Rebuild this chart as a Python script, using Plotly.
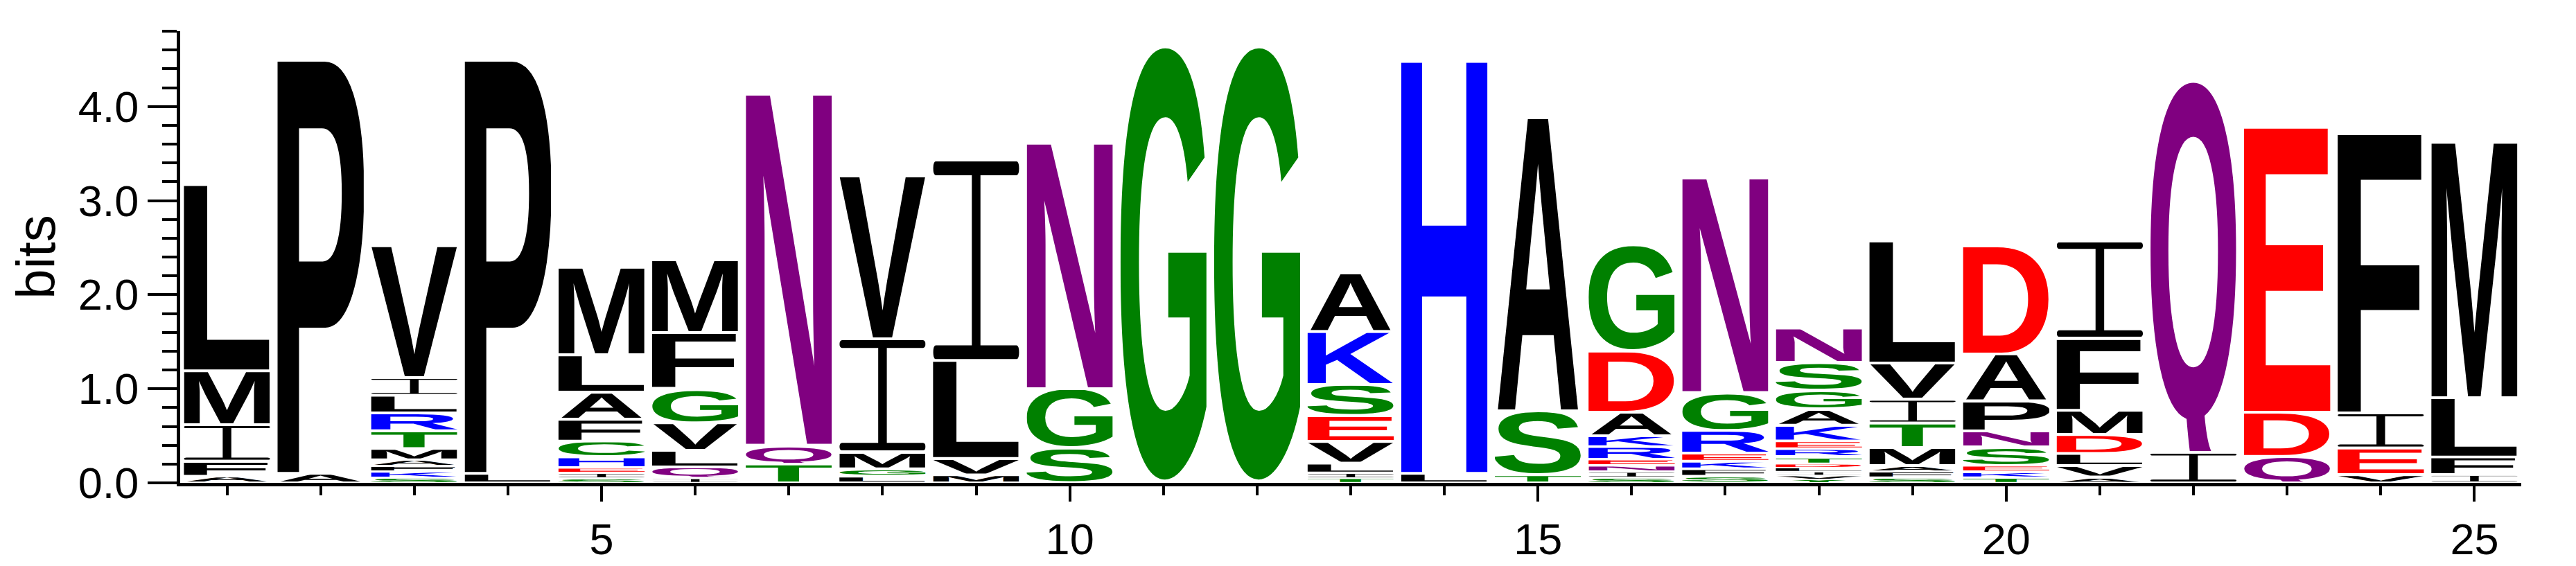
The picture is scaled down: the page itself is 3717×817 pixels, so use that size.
import base64
import plotly.graph_objects as go

positions = list(range(1, 26))

# letters of each stack, listed bottom to top
stack_letters = [
    "AFIML", "AP", "SKFAMTRLIV", "LP", "SIEHCFALM",
    "IQLVGFM", "TQN", "LGMIV", "MVLI", "SGN",
    "G", "G", "TILVESKA", "LH", "TSA",
    "SINERKADG", "SFKERGN", "YVILDTREKAGSN", "SFAMTIVL", "TKESNPAD",
    "AVLDMFI", "IQ", "QDE", "VEIF", "IFLM",
]

# height in bits of each letter, same order as stack_letters
stack_bits = [
    [0.07, 0.16, 0.39, 0.57, 1.98],
    [0.10, 4.39],
    [0.055, 0.065, 0.06, 0.065, 0.12, 0.19, 0.19, 0.185, 0.19, 1.40],
    [0.10, 4.39],
    [0.05, 0.055, 0.055, 0.115, 0.17, 0.23, 0.287, 0.398, 0.93],
    [0.05, 0.118, 0.177, 0.293, 0.362, 0.597, 0.773],
    [0.20, 0.20, 3.73],
    [0.07, 0.08, 0.18, 1.20, 1.73],
    [0.085, 0.175, 1.04, 2.13],
    [0.37, 0.63, 2.61],
    [4.65],
    [4.65],
    [0.05, 0.055, 0.105, 0.23, 0.275, 0.331, 0.561, 0.623],
    [0.10, 4.38],
    [0.085, 0.682, 3.113],
    [0.055, 0.065, 0.065, 0.065, 0.135, 0.115, 0.25, 0.65, 1.13],
    [0.07, 0.08, 0.08, 0.085, 0.242, 0.403, 2.28],
    [0.036, 0.042, 0.042, 0.042, 0.04, 0.078, 0.084, 0.082, 0.168, 0.173, 0.199, 0.294, 0.365],
    [0.057, 0.065, 0.062, 0.19, 0.261, 0.253, 0.384, 1.298],
    [0.057, 0.063, 0.065, 0.198, 0.169, 0.316, 0.502, 1.15],
    [0.063, 0.12, 0.13, 0.20, 0.257, 0.767, 1.033],
    [0.325, 3.955],
    [0.282, 0.468, 3.03],
    [0.086, 0.284, 0.375, 2.965],
    [0.09, 0.185, 0.63, 2.715],
]

y_ticks = [0, 1, 2, 3, 4]
y_tick_labels = ["0.0", "1.0", "2.0", "3.0", "4.0"]

colors = {}
for c in "GSTYC":
    colors[c] = "#008000"
for c in "NQ":
    colors[c] = "#800080"
for c in "KRH":
    colors[c] = "#0000ff"
for c in "DE":
    colors[c] = "#ff0000"

# rough ink boxes of Liberation Sans Bold capitals (xmin, xmax, bottom, top), em = 1000
flat = (0, 688)
round_ = (-13, 701)
glyph_box = {
    "A": (0, 722) + flat, "C": (40, 688) + round_, "D": (72, 688) + flat,
    "E": (72, 624) + flat, "F": (72, 590) + flat, "G": (40, 716) + round_,
    "H": (70, 654) + flat, "K": (75, 722) + flat, "L": (72, 586) + flat,
    "M": (66, 768) + flat, "N": (66, 656) + flat, "P": (72, 630) + flat,
    "Q": (40, 740) + (-72, 701), "R": (72, 700) + flat, "S": (36, 632) + round_,
    "T": (12, 600) + flat, "V": (4, 664) + flat, "W": (6, 938) + flat,
    "Y": (4, 664) + flat,
}


def glyph_uri(ch):
    color = colors.get(ch, "#000000")
    if ch == "I":
        svg = (
            '<svg xmlns="http://www.w3.org/2000/svg" width="100" height="100" '
            'viewBox="0 0 100 100" preserveAspectRatio="none">'
            f'<rect x="0" y="0" width="100" height="7" rx="3" ry="3.5" fill="{color}"/>'
            f'<rect x="45" y="3" width="10" height="94" fill="{color}"/>'
            f'<rect x="0" y="93" width="100" height="7" rx="3" ry="3.5" fill="{color}"/>'
            "</svg>"
        )
    else:
        x0, x1, bot, top = glyph_box[ch]
        w, h = x1 - x0, top - bot
        svg = (
            f'<svg xmlns="http://www.w3.org/2000/svg" width="{w}" height="{h}" '
            f'viewBox="{x0} {-top} {w} {h}" preserveAspectRatio="none">'
            '<text x="0" y="0" font-family="Liberation Sans, Arimo, Arial, sans-serif" '
            f'font-weight="bold" font-size="1000" fill="{color}">{ch}</text></svg>'
        )
    return "data:image/svg+xml;base64," + base64.b64encode(svg.encode()).decode()


fig = go.Figure()

totals = [sum(b) for b in stack_bits]
fig.add_trace(go.Scatter(x=positions, y=totals, mode="none", hoverinfo="skip"))

col_w = 0.92
for pos, letters, bits in zip(positions, stack_letters, stack_bits):
    bottom = 0.0
    for ch, h in zip(letters, bits):
        gap = min(0.028, 0.35 * h)
        fig.add_layout_image(
            source=glyph_uri(ch),
            xref="x", yref="y",
            x=pos - col_w / 2, y=bottom + h - gap / 2,
            sizex=col_w, sizey=h - gap,
            sizing="stretch", xanchor="left", yanchor="top",
            layer="above",
        )
        bottom += h

fig.update_layout(
    width=3717,
    height=817,
    margin=dict(l=252, r=87, t=37, b=106),
    plot_bgcolor="white",
    paper_bgcolor="white",
    showlegend=False,
    font=dict(family="Liberation Sans, Arial", color="black"),
)

fig.update_xaxes(
    range=[0.5, 25.5],
    tick0=0, dtick=5,
    ticks="outside", ticklen=22, tickwidth=4, tickcolor="black",
    minor=dict(tick0=0, dtick=1, ticks="outside", ticklen=13, tickwidth=4, tickcolor="black"),
    showline=True, linewidth=5, linecolor="black",
    showgrid=False, zeroline=False,
    tickfont_size=63,
)
fig.update_yaxes(
    range=[0, 4.8],
    tickvals=y_ticks, ticktext=y_tick_labels,
    ticks="outside", ticklen=42, tickwidth=4, tickcolor="black",
    minor=dict(tick0=0, dtick=0.2, ticks="outside", ticklen=21, tickwidth=4, tickcolor="black"),
    showline=True, linewidth=5, linecolor="black",
    showgrid=False, zeroline=False,
    tickfont_size=63,
    title=dict(text="bits", font_size=78, standoff=24),
)

fig.write_html("out.html")
